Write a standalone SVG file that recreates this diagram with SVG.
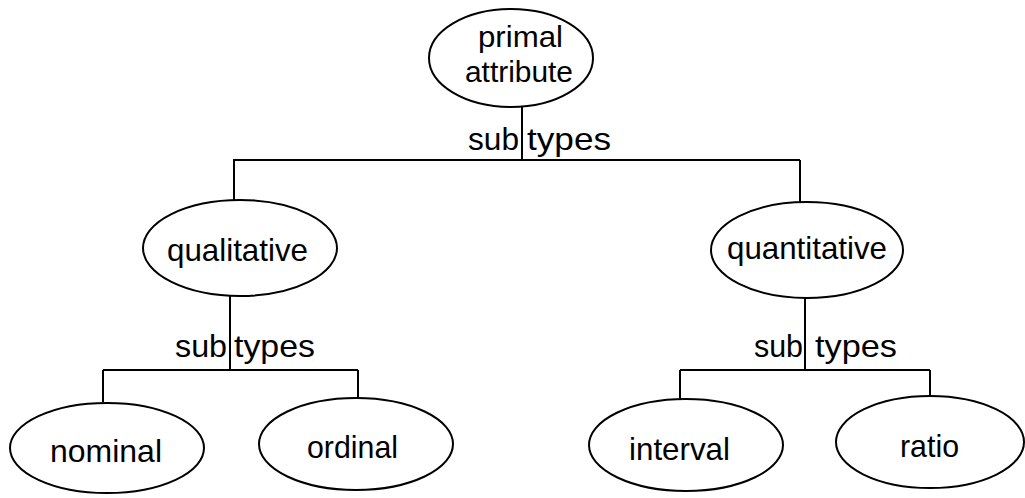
<svg xmlns="http://www.w3.org/2000/svg" width="1025" height="498" viewBox="0 0 1025 498">
<style>
.n{fill:#fff;stroke:#000;stroke-width:2}
.t{font-family:"Liberation Sans",Arial,sans-serif;font-size:32px;fill:#000}
.s{font-size:30px}
.c{fill:none;stroke:#000;stroke-width:2}
</style>
<rect width="1025" height="498" fill="#fff"/>
<g id="connectors">
<path class="c" d="M522 107V160M233 160H800M234 160V200M800 160V202"/>
<path class="c" d="M230 296V370M103 370H358M103 370V402M358 370V398"/>
<path class="c" d="M805 298V370M680 370H930M680 370V399M930 370V396"/>
<text class="t" x="468" y="150" textLength="51" lengthAdjust="spacingAndGlyphs">sub</text>
<text class="t" x="527" y="150" textLength="84" lengthAdjust="spacingAndGlyphs">types</text>
<text class="t" x="175" y="357" textLength="52" lengthAdjust="spacingAndGlyphs">sub</text>
<text class="t" x="234" y="357" textLength="81" lengthAdjust="spacingAndGlyphs">types</text>
<text class="t" x="754" y="357" textLength="49" lengthAdjust="spacingAndGlyphs">sub</text>
<text class="t" x="815" y="357" textLength="82" lengthAdjust="spacingAndGlyphs">types</text>
</g>
<g id="primal-attribute">
<ellipse class="n" cx="511" cy="58" rx="82" ry="49"/>
<text class="t s" x="478" y="47" textLength="85" lengthAdjust="spacingAndGlyphs">primal</text>
<text class="t s" x="465" y="82" textLength="108" lengthAdjust="spacingAndGlyphs">attribute</text>
</g>
<g id="qualitative">
<ellipse class="n" cx="240" cy="248" rx="97" ry="48"/>
<text class="t" x="167" y="261" textLength="141" lengthAdjust="spacingAndGlyphs">qualitative</text>
</g>
<g id="quantitative">
<ellipse class="n" cx="807" cy="250" rx="96" ry="48"/>
<text class="t" x="727" y="259" textLength="160" lengthAdjust="spacingAndGlyphs">quantitative</text>
</g>
<g id="nominal">
<ellipse class="n" cx="107" cy="448" rx="97" ry="45"/>
<text class="t" x="50" y="462" textLength="112" lengthAdjust="spacingAndGlyphs">nominal</text>
</g>
<g id="ordinal">
<ellipse class="n" cx="356" cy="444" rx="97" ry="46"/>
<text class="t" x="307" y="458" textLength="91" lengthAdjust="spacingAndGlyphs">ordinal</text>
</g>
<g id="interval">
<ellipse class="n" cx="686" cy="445" rx="97" ry="46"/>
<text class="t" x="629" y="460" textLength="101" lengthAdjust="spacingAndGlyphs">interval</text>
</g>
<g id="ratio">
<ellipse class="n" cx="930" cy="442" rx="94" ry="46"/>
<text class="t" x="900" y="457" textLength="59" lengthAdjust="spacingAndGlyphs">ratio</text>
</g>
</svg>
